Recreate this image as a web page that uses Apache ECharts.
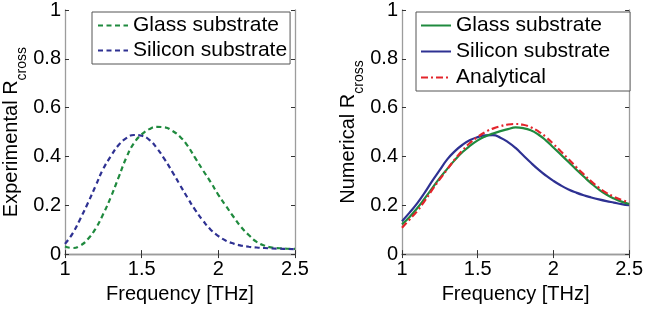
<!DOCTYPE html>
<html>
<head>
<meta charset="utf-8">
<script src="https://cdn.jsdelivr.net/npm/echarts@6/dist/echarts.min.js"></script>
<style>
html,body{margin:0;padding:0;background:#fff;}
#chart{width:646px;height:309px;}
</style>
</head>
<body>
<div id="chart"></div>
<script>
// ---- data ----
const xTicks = [1, 1.5, 2, 2.5];
const yTicks = [0, 0.2, 0.4, 0.6, 0.8, 1];
const legendLeft = ['Glass substrate', 'Silicon substrate'];
const legendRight = ['Glass substrate', 'Silicon substrate', 'Analytical'];
const xAxisTitle = 'Frequency [THz]';
const yTitleLeft = 'Experimental R';
const yTitleRight = 'Numerical R';
const ySub = 'cross';

const freqExp = [1.00,1.05,1.10,1.15,1.20,1.25,1.30,1.35,1.40,1.45,1.50,1.55,1.60,1.65,1.70,1.75,1.80,1.85,1.90,1.95,2.00,2.05,2.10,2.15,2.20,2.25,2.30,2.35,2.40,2.45,2.50];
const glassExp = [0.031,0.025,0.035,0.062,0.105,0.165,0.235,0.315,0.395,0.455,0.490,0.512,0.521,0.519,0.505,0.481,0.443,0.393,0.343,0.295,0.243,0.197,0.152,0.110,0.077,0.050,0.035,0.027,0.024,0.022,0.021];
const siliconExp = [0.042,0.085,0.145,0.210,0.280,0.350,0.402,0.447,0.475,0.488,0.485,0.468,0.433,0.388,0.337,0.283,0.230,0.180,0.137,0.100,0.074,0.055,0.043,0.035,0.030,0.027,0.025,0.023,0.022,0.021,0.020];

const freqNum = [1.00,1.05,1.10,1.15,1.20,1.25,1.30,1.35,1.40,1.45,1.50,1.55,1.60,1.65,1.70,1.75,1.80,1.85,1.90,1.95,2.00,2.05,2.10,2.15,2.20,2.25,2.30,2.35,2.40,2.45,2.50];
const glassNum = [0.122,0.152,0.188,0.228,0.270,0.312,0.350,0.386,0.418,0.444,0.466,0.482,0.494,0.504,0.512,0.519,0.516,0.507,0.490,0.466,0.437,0.407,0.377,0.347,0.318,0.290,0.265,0.244,0.228,0.215,0.205];
const siliconNum = [0.135,0.170,0.208,0.252,0.300,0.345,0.389,0.422,0.448,0.467,0.479,0.486,0.487,0.477,0.459,0.435,0.405,0.375,0.347,0.322,0.300,0.281,0.265,0.252,0.241,0.232,0.224,0.217,0.211,0.205,0.200];
const analytical = [0.108,0.142,0.176,0.218,0.264,0.307,0.348,0.389,0.425,0.456,0.480,0.500,0.514,0.524,0.531,0.533,0.530,0.520,0.503,0.480,0.451,0.420,0.389,0.357,0.327,0.298,0.272,0.251,0.235,0.222,0.212];

// ---- styling ----
const FONT = '"Liberation Sans", Arial, Helvetica, sans-serif';
const GREEN = '#1f8a3e';
const BLUE = '#2e3192';
const RED = '#e3242b';
const AXIS_GREY = '#9c9c9c';

function pairs(xs, ys) { return xs.map((x, i) => [x, ys[i]]); }

function xAx(grid, bottom) {
  return {
    type: 'value', gridIndex: grid, position: bottom ? 'bottom' : 'top',
    min: xTicks[0], max: xTicks[xTicks.length - 1], interval: 0.5,
    name: bottom ? xAxisTitle : '', nameLocation: 'middle', nameGap: 22,
    nameTextStyle: { fontSize: 20, color: '#000', fontFamily: FONT },
    axisLine: { show: true, lineStyle: { color: AXIS_GREY, width: 1.3 } },
    axisTick: { show: true, inside: true, length: 4, lineStyle: { color: '#333', width: 1 } },
    axisLabel: { show: bottom, fontSize: 20, color: '#000', fontFamily: FONT, margin: 5,
      formatter: v => String(v) },
    splitLine: { show: false }
  };
}
function yAx(grid, left, title) {
  return {
    type: 'value', gridIndex: grid, position: left ? 'left' : 'right',
    min: yTicks[0], max: yTicks[yTicks.length - 1], interval: 0.2,
    name: left ? '{a|' + title + '}{b|' + ySub + '}' : '', nameLocation: 'middle', nameGap: 38,
    nameTextStyle: { color: '#000', fontFamily: FONT,
      rich: {
        a: { fontSize: 20, lineHeight: 22, verticalAlign: 'top', color: '#000', fontFamily: FONT },
        b: { fontSize: 14, lineHeight: 14, verticalAlign: 'top', padding: [14, 0, 0, 0], color: '#000', fontFamily: FONT }
      } },
    axisLine: { show: true, lineStyle: { color: AXIS_GREY, width: 1.3 } },
    axisTick: { show: true, inside: true, length: 4, lineStyle: { color: '#333', width: 1 } },
    axisLabel: { show: left, fontSize: 20, color: '#000', fontFamily: FONT, margin: 4,
      formatter: v => String(Math.round(v * 10) / 10) },
    splitLine: { show: false }
  };
}

const legendBase = {
  orient: 'vertical', itemWidth: 30, itemHeight: 14,
  borderColor: '#555', borderWidth: 1, backgroundColor: '#fff',
  itemStyle: { opacity: 0 },
  textStyle: { fontSize: 21, color: '#000', fontFamily: FONT },
  formatter: n => n.trim()
};

const option = {
  animation: false,
  backgroundColor: '#fff',
  textStyle: { fontFamily: FONT },
  grid: [
    { left: 65, top: 7, width: 230, height: 256 },
    { left: 402, top: 7, width: 230, height: 256 }
  ],
  xAxis: [xAx(0, true), xAx(0, false), xAx(1, true), xAx(1, false)],
  yAxis: [yAx(0, true, yTitleLeft), yAx(0, false, ''), yAx(1, true, yTitleRight), yAx(1, false, '')],
  legend: [
    Object.assign({}, legendBase, {
      left: 92, top: 12, itemGap: 4, padding: [3, 3, 3, 5],
      data: legendLeft.map(n => n + ' ')
    }),
    Object.assign({}, legendBase, {
      left: 416, top: 12, itemGap: 5, padding: [3, 20, 3, 4],
      data: legendRight
    })
  ],
  series: [
    { name: legendLeft[0] + ' ', type: 'line', xAxisIndex: 0, yAxisIndex: 0, symbol: 'none', smooth: true,
      data: pairs(freqExp, glassExp), lineStyle: { color: GREEN, width: 2.2, type: [5, 3.5] }, itemStyle: { color: GREEN } },
    { name: legendLeft[1] + ' ', type: 'line', xAxisIndex: 0, yAxisIndex: 0, symbol: 'none', smooth: true,
      data: pairs(freqExp, siliconExp), lineStyle: { color: BLUE, width: 2.2, type: [5, 3.5] }, itemStyle: { color: BLUE } },
    { name: legendRight[1], type: 'line', xAxisIndex: 2, yAxisIndex: 2, symbol: 'none', smooth: true,
      data: pairs(freqNum, siliconNum), lineStyle: { color: BLUE, width: 2.2 }, itemStyle: { color: BLUE } },
    { name: legendRight[0], type: 'line', xAxisIndex: 2, yAxisIndex: 2, symbol: 'none', smooth: true,
      data: pairs(freqNum, glassNum), lineStyle: { color: GREEN, width: 2.2 }, itemStyle: { color: GREEN } },
    { name: legendRight[2], type: 'line', xAxisIndex: 2, yAxisIndex: 2, symbol: 'none', smooth: true,
      data: pairs(freqNum, analytical), lineStyle: { color: RED, width: 2.2, type: [7, 3, 2, 3] }, itemStyle: { color: RED } }
  ]
};

const chart = echarts.init(document.getElementById('chart'), null, { renderer: 'canvas' });
chart.setOption(option);
</script>
</body>
</html>
